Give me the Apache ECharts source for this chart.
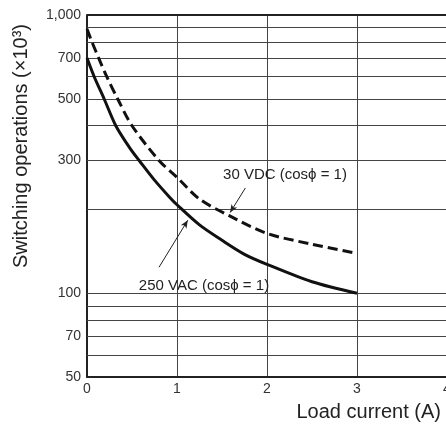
<!DOCTYPE html>
<html>
<head>
<meta charset="utf-8">
<script src="https://cdn.jsdelivr.net/npm/echarts@6/dist/echarts.min.js"></script>
<style>
  html, body { margin: 0; padding: 0; background: #fff; }
  #chart { width: 446px; height: 429px; }
</style>
</head>
<body>
<div id="chart"></div>
<script>
// curve points: [load current (A), operations (x10^3)]
const acCurve = [[0, 700], [0.08, 600], [0.19, 500], [0.32, 400], [0.48, 331], [0.58, 300], [0.75, 255], [0.92, 221], [1, 208], [1.25, 176], [1.5, 155], [1.75, 138], [2, 127], [2.5, 110], [3, 100]]
const dcCurve = [[0, 890], [0.055, 800], [0.13, 700], [0.22, 600], [0.34, 500], [0.5, 400], [0.8, 300], [1, 261], [1.25, 218], [1.58, 190], [2, 164], [2.5, 150], [3, 139]]

const yLabelValues = [50, 70, 100, 300, 500, 700, 1000]
const yGridValues = [60, 70, 80, 90, 100, 200, 300, 400, 500, 600, 700, 800, 900, 1000]

// callouts: text anchor and arrow (from -> to), in data units
const dcLabel = { text: '30 VDC (cos\u03d5 = 1)', at: [2.2, 267], arrow: [[1.76, 239], [1.59, 195]] }
const acLabel = { text: '250 VAC (cos\u03d5 = 1)', at: [1.3, 106], arrow: [[0.80, 124], [1.12, 183]] }

const chart = echarts.init(document.getElementById('chart'))

const fontFamily = 'Liberation Sans, Arial, sans-serif'

const calloutLine = (c) => [
  { coord: c.arrow[0], symbol: 'none' },
  { coord: c.arrow[1], symbol: 'arrow', symbolSize: [5, 8] }
]

const calloutText = (c) => ({
  symbol: 'circle',
  symbolSize: 0,
  label: { show: true, formatter: c.text, color: '#222', fontSize: 15, fontFamily, position: 'inside', align: 'center', verticalAlign: 'middle' },
  data: [{ coord: c.at }]
})

const option = {
  animation: false,
  grid: { left: 87, right: -1, top: 15, bottom: 52, outerBoundsMode: 'none' },
  graphic: [
    {
      type: 'text',
      x: 21, y: 146,
      rotation: Math.PI / 2,
      style: {
        text: 'Switching operations (\u00d710\u00b3)',
        font: '20px ' + fontFamily,
        fill: '#222',
        align: 'center',
        verticalAlign: 'middle'
      }
    },
    {
      type: 'text',
      x: 441, y: 412,
      style: {
        text: 'Load current (A)',
        font: '20px ' + fontFamily,
        fill: '#222',
        align: 'right',
        verticalAlign: 'middle'
      }
    }
  ],
  xAxis: {
    type: 'value',
    min: 0,
    max: 4,
    interval: 1,
    axisLine: { lineStyle: { color: '#222', width: 2 } },
    axisTick: { show: false },
    axisLabel: { color: '#333', fontSize: 14, fontFamily, margin: 5, showMaxLabel: true },
    splitLine: { show: true, lineStyle: { color: '#444', width: 1 } }
  },
  yAxis: {
    type: 'log',
    min: 50,
    max: 1000,
    axisLine: { show: true, lineStyle: { color: '#222', width: 2 } },
    axisTick: { show: false },
    axisLabel: {
      color: '#333',
      fontSize: 14,
      fontFamily,
      margin: 6,
      customValues: yLabelValues,
      formatter: (v) => Math.round(v).toLocaleString('en-US')
    },
    splitLine: { show: false }
  },
  series: [
    {
      name: 'grid',
      type: 'line',
      data: [],
      silent: true,
      markLine: {
        silent: true,
        symbol: 'none',
        label: { show: false },
        lineStyle: { color: '#444', width: 1, type: 'solid' },
        data: yGridValues.map(v => ({ yAxis: v, lineStyle: v === 1000 ? { width: 2, color: '#222' } : {} }))
      }
    },
    {
      name: '250 VAC',
      type: 'line',
      data: acCurve,
      smooth: 0.3,
      showSymbol: false,
      lineStyle: { color: '#111', width: 3 },
      z: 5,
      markLine: {
        silent: true,
        label: { show: false },
        lineStyle: { color: '#222', width: 1, type: 'solid' },
        data: [calloutLine(acLabel)]
      },
      markPoint: calloutText(acLabel)
    },
    {
      name: '30 VDC',
      type: 'line',
      data: dcCurve,
      smooth: 0.3,
      showSymbol: false,
      lineStyle: { color: '#111', width: 3, type: [10, 5] },
      z: 5,
      markLine: {
        silent: true,
        label: { show: false },
        lineStyle: { color: '#222', width: 1, type: 'solid' },
        data: [calloutLine(dcLabel)]
      },
      markPoint: calloutText(dcLabel)
    }
  ]
}

chart.setOption(option)
</script>
</body>
</html>
